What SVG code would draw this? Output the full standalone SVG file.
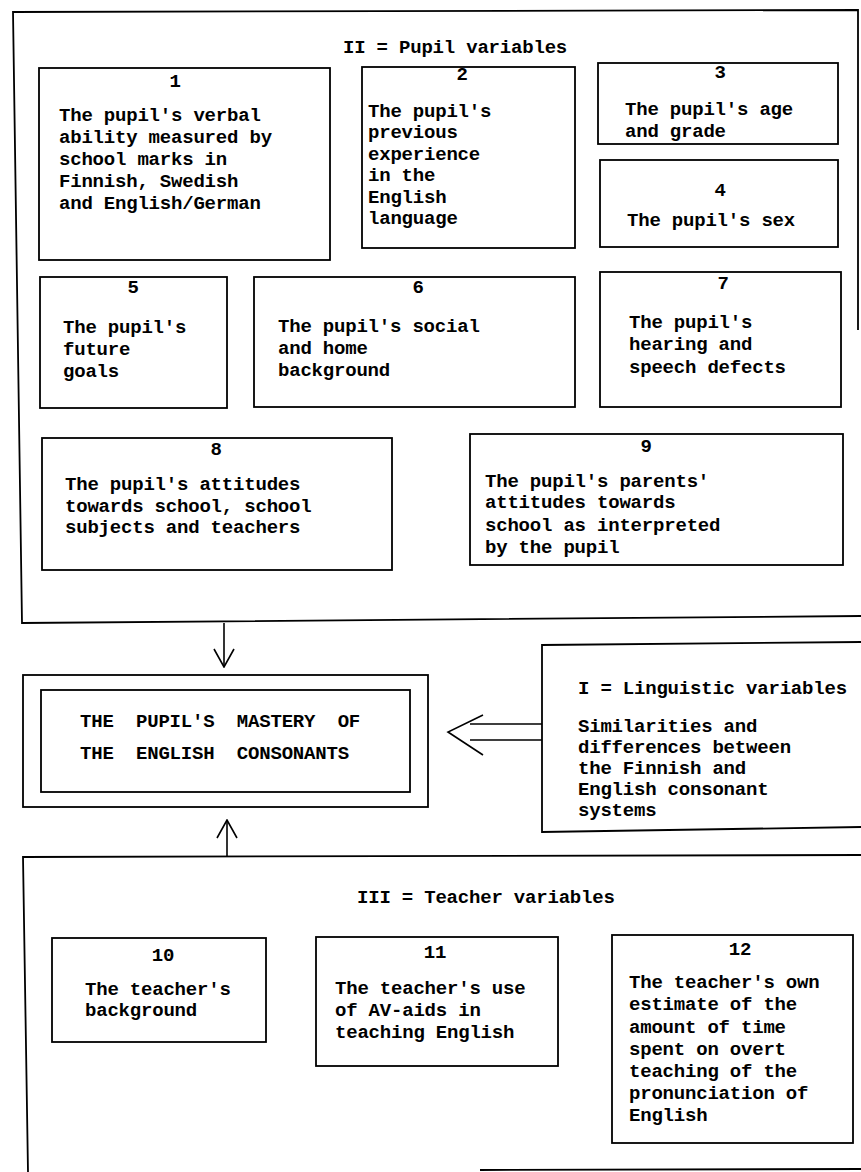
<svg xmlns="http://www.w3.org/2000/svg" width="861" height="1172" viewBox="0 0 861 1172">
<defs>
<style>
.t{font-family:"Liberation Mono","DejaVu Sans Mono",monospace;font-size:19px;font-weight:bold;letter-spacing:-0.2px;fill:#000}
.n{text-anchor:middle}
.box{fill:none;stroke:#000;stroke-width:1.8}
.frame{fill:none;stroke:#000;stroke-width:1.8}
.conn{fill:none;stroke:#000;stroke-width:1.6}
</style>
<marker id="openV" viewBox="0 0 20 22" refX="19" refY="11" markerWidth="20" markerHeight="22" markerUnits="userSpaceOnUse" orient="auto">
<path d="M1,1 L19,11 L1,21" fill="none" stroke="#000" stroke-width="1.6"/>
</marker>
</defs>
<rect width="861" height="1172" fill="#fff"/>

<g id="group-II">
<path class="frame" d="M858,330 L858,10 L13,12 L22,623 L861,616"/>
<text class="t" x="343" y="53">II = Pupil variables</text>
</g>

<g id="node1">
<rect class="box" x="39" y="68" width="291" height="192"/>
<text class="t n" x="175" y="87">1</text>
<text class="t" x="59" y="121">The pupil's verbal</text>
<text class="t" x="59" y="143">ability measured by</text>
<text class="t" x="59" y="165">school marks in</text>
<text class="t" x="59" y="187">Finnish, Swedish</text>
<text class="t" x="59" y="209">and English/German</text>
</g>

<g id="node2">
<rect class="box" x="362" y="67" width="213" height="181"/>
<text class="t n" x="462" y="80">2</text>
<text class="t" x="368" y="117">The pupil's</text>
<text class="t" x="368" y="138">previous</text>
<text class="t" x="368" y="160">experience</text>
<text class="t" x="368" y="181">in the</text>
<text class="t" x="368" y="203">English</text>
<text class="t" x="368" y="224">language</text>
</g>

<g id="node3">
<rect class="box" x="598" y="63" width="240" height="81"/>
<text class="t n" x="720" y="78">3</text>
<text class="t" x="625" y="115">The pupil's age</text>
<text class="t" x="625" y="137">and grade</text>
</g>

<g id="node4">
<rect class="box" x="600" y="160" width="238" height="87"/>
<text class="t n" x="720" y="196">4</text>
<text class="t" x="627" y="226">The pupil's sex</text>
</g>

<g id="node5">
<rect class="box" x="40" y="277" width="187" height="131"/>
<text class="t n" x="133" y="293">5</text>
<text class="t" x="63" y="333">The pupil's</text>
<text class="t" x="63" y="355">future</text>
<text class="t" x="63" y="377">goals</text>
</g>

<g id="node6">
<rect class="box" x="254" y="277" width="321" height="130"/>
<text class="t n" x="418" y="293">6</text>
<text class="t" x="278" y="332">The pupil's social</text>
<text class="t" x="278" y="354">and home</text>
<text class="t" x="278" y="376">background</text>
</g>

<g id="node7">
<rect class="box" x="600" y="272" width="241" height="135"/>
<text class="t n" x="723" y="289">7</text>
<text class="t" x="629" y="328">The pupil's</text>
<text class="t" x="629" y="350">hearing and</text>
<text class="t" x="629" y="373">speech defects</text>
</g>

<g id="node8">
<rect class="box" x="42" y="438" width="350" height="132"/>
<text class="t n" x="216" y="455">8</text>
<text class="t" x="65" y="490">The pupil's attitudes</text>
<text class="t" x="65" y="512">towards school, school</text>
<text class="t" x="65" y="533">subjects and teachers</text>
</g>

<g id="node9">
<rect class="box" x="470" y="434" width="373" height="131"/>
<text class="t n" x="646" y="452">9</text>
<text class="t" x="485" y="487">The pupil's parents'</text>
<text class="t" x="485" y="508">attitudes towards</text>
<text class="t" x="485" y="531">school as interpreted</text>
<text class="t" x="485" y="553">by the pupil</text>
</g>

<g id="node-mastery">
<rect class="box" x="23" y="675" width="405" height="132"/>
<rect class="box" x="41" y="690" width="369" height="102"/>
<text class="t" x="80" y="727" xml:space="preserve">THE  PUPIL'S  MASTERY  OF</text>
<text class="t" x="80" y="759" xml:space="preserve">THE  ENGLISH  CONSONANTS</text>
</g>

<g id="node-linguistic">
<path class="box" d="M861,642 L542,645 L542,832 L861,827"/>
<text class="t" x="578" y="694">I = Linguistic variables</text>
<text class="t" x="578" y="732">Similarities and</text>
<text class="t" x="578" y="753">differences between</text>
<text class="t" x="578" y="774">the Finnish and</text>
<text class="t" x="578" y="795">English consonant</text>
<text class="t" x="578" y="816">systems</text>
</g>

<g id="group-III">
<path class="frame" d="M28,1172 L23,857 L861,855"/>
<path class="frame" d="M480,1170 L861,1169"/>
<text class="t" x="357" y="903">III = Teacher variables</text>
</g>

<g id="node10">
<rect class="box" x="52" y="938" width="214" height="104"/>
<text class="t n" x="163" y="961">10</text>
<text class="t" x="85" y="995">The teacher's</text>
<text class="t" x="85" y="1016">background</text>
</g>

<g id="node11">
<rect class="box" x="316" y="937" width="242" height="129"/>
<text class="t n" x="435" y="958">11</text>
<text class="t" x="335" y="994">The teacher's use</text>
<text class="t" x="335" y="1016">of AV-aids in</text>
<text class="t" x="335" y="1038">teaching English</text>
</g>

<g id="node12">
<rect class="box" x="612" y="935" width="241" height="208"/>
<text class="t n" x="740" y="955">12</text>
<text class="t" x="629" y="988">The teacher's own</text>
<text class="t" x="629" y="1010">estimate of the</text>
<text class="t" x="629" y="1033">amount of time</text>
<text class="t" x="629" y="1055">spent on overt</text>
<text class="t" x="629" y="1077">teaching of the</text>
<text class="t" x="629" y="1099">pronunciation of</text>
<text class="t" x="629" y="1121">English</text>
</g>

<g id="connectors">
<path class="conn" d="M224,623 L224,667" marker-end="url(#openV)"/>
<path class="conn" d="M227,857 L227,820" marker-end="url(#openV)"/>
<path class="conn" d="M542,724 L470,724 M542,740 L470,740"/>
<path class="conn" d="M483,715 L448,732 L483,755"/>
</g>
</svg>
